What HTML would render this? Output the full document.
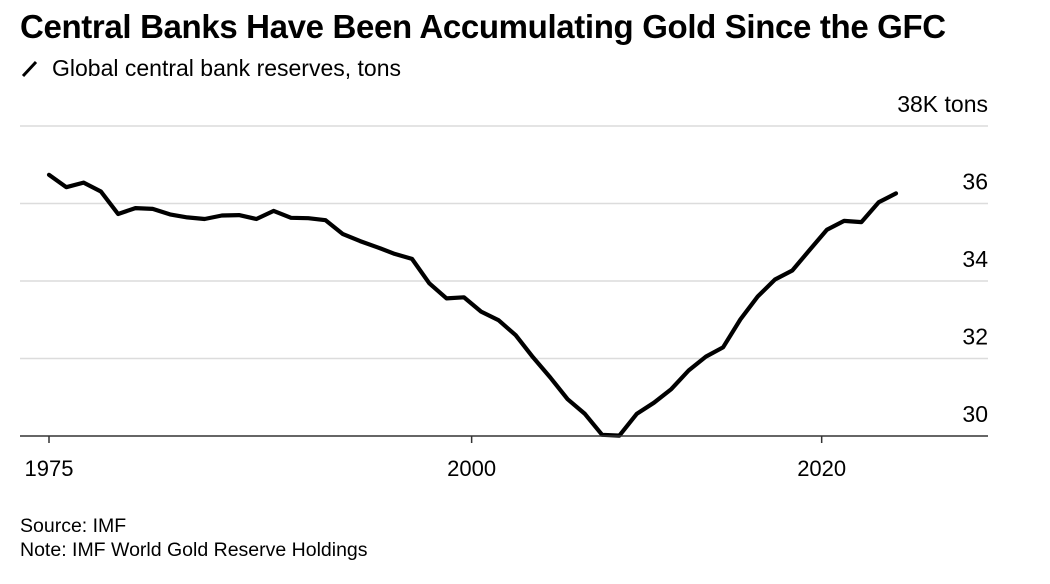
<!DOCTYPE html>
<html><head><meta charset="utf-8">
<style>
body{margin:0;background:#fff;width:1050px;height:584px;overflow:hidden;font-family:"Liberation Sans",Arial,sans-serif;color:#000}
svg{position:absolute;left:0;top:0}
</style></head><body>
<svg width="1050" height="584" id="chart">
<text x="20" y="38" font-size="33" font-weight="bold" letter-spacing="-0.35">Central Banks Have Been Accumulating Gold Since the GFC</text>
<line x1="23" y1="76" x2="36" y2="62" stroke="#000" stroke-width="3"/>
<text x="52" y="76" font-size="23">Global central bank reserves, tons</text>
<g id="grid"></g>
<path id="line" fill="none" stroke="#000" stroke-width="4.2" stroke-linejoin="round" stroke-linecap="round"/>
<g id="axes"></g>
<text x="20" y="532" font-size="19.5">Source: IMF</text>
<text x="20" y="556" font-size="19.5">Note: IMF World Gold Reserve Holdings</text>
</svg>
<script>
const years = [];
for (let y = 1976; y <= 2025; y++) years.push(y);
const reserves = [36.74,36.42,36.54,36.31,35.73,35.88,35.86,35.72,35.64,35.60,35.69,35.70,35.60,35.81,35.63,35.62,35.57,35.21,35.03,34.87,34.70,34.57,33.94,33.55,33.58,
33.21,32.99,32.60,32.03,31.51,30.95,30.57,30.03,30.01,30.57,30.86,31.21,31.69,32.05,32.29,33.01,33.60,34.04,34.27,34.80,35.32,35.55,35.52,36.03,36.26];
const yTicks = [30,32,34,36,38];
const yTickLabels = ["30","32","34","36","38K tons"];
const xTicks = [1976,2000.45,2020.7];
const xTickLabels = ["1975","2000","2020"];

const NS = "http://www.w3.org/2000/svg";
const x = v => 49 + (v - 1976) * (896 - 49) / 49;
const y = v => 436 - (v - 30) * 38.75;
function mk(tag, attrs, parent, text) {
  const e = document.createElementNS(NS, tag);
  for (const k in attrs) e.setAttribute(k, attrs[k]);
  if (text !== undefined) e.textContent = text;
  parent.appendChild(e);
  return e;
}
const grid = document.getElementById("grid");
const axes = document.getElementById("axes");
yTicks.forEach((t, i) => {
  if (t > 30) {
    const l = mk("line", {x1: 20, x2: 988, y1: y(t), y2: y(t), stroke: "#dcdcdc", "stroke-width": 1.5}, grid);
    
    
  }
  const tx = mk("text", {x: 988, y: y(t) - 14, "font-size": 23, "text-anchor": "end"}, axes, yTickLabels[i]);
  
  
});
const base = mk("line", {x1: 20, x2: 988, y1: 436, y2: 436, stroke: "#333", "stroke-width": 1.5}, axes);


xTicks.forEach((t, i) => {
  const tk = mk("line", {x1: x(t), x2: x(t), y1: 436, y2: 443, stroke: "#333", "stroke-width": 1.5}, axes);
  
  
  const tl = mk("text", {x: x(t), y: 476, "font-size": 22, "text-anchor": "middle"}, axes, xTickLabels[i]);
  
  
});
document.getElementById("line").setAttribute("d",
  years.map((yr, i) => (i ? "L" : "M") + x(yr).toFixed(1) + "," + y(reserves[i]).toFixed(1)).join(""));
</script>
</body></html>
